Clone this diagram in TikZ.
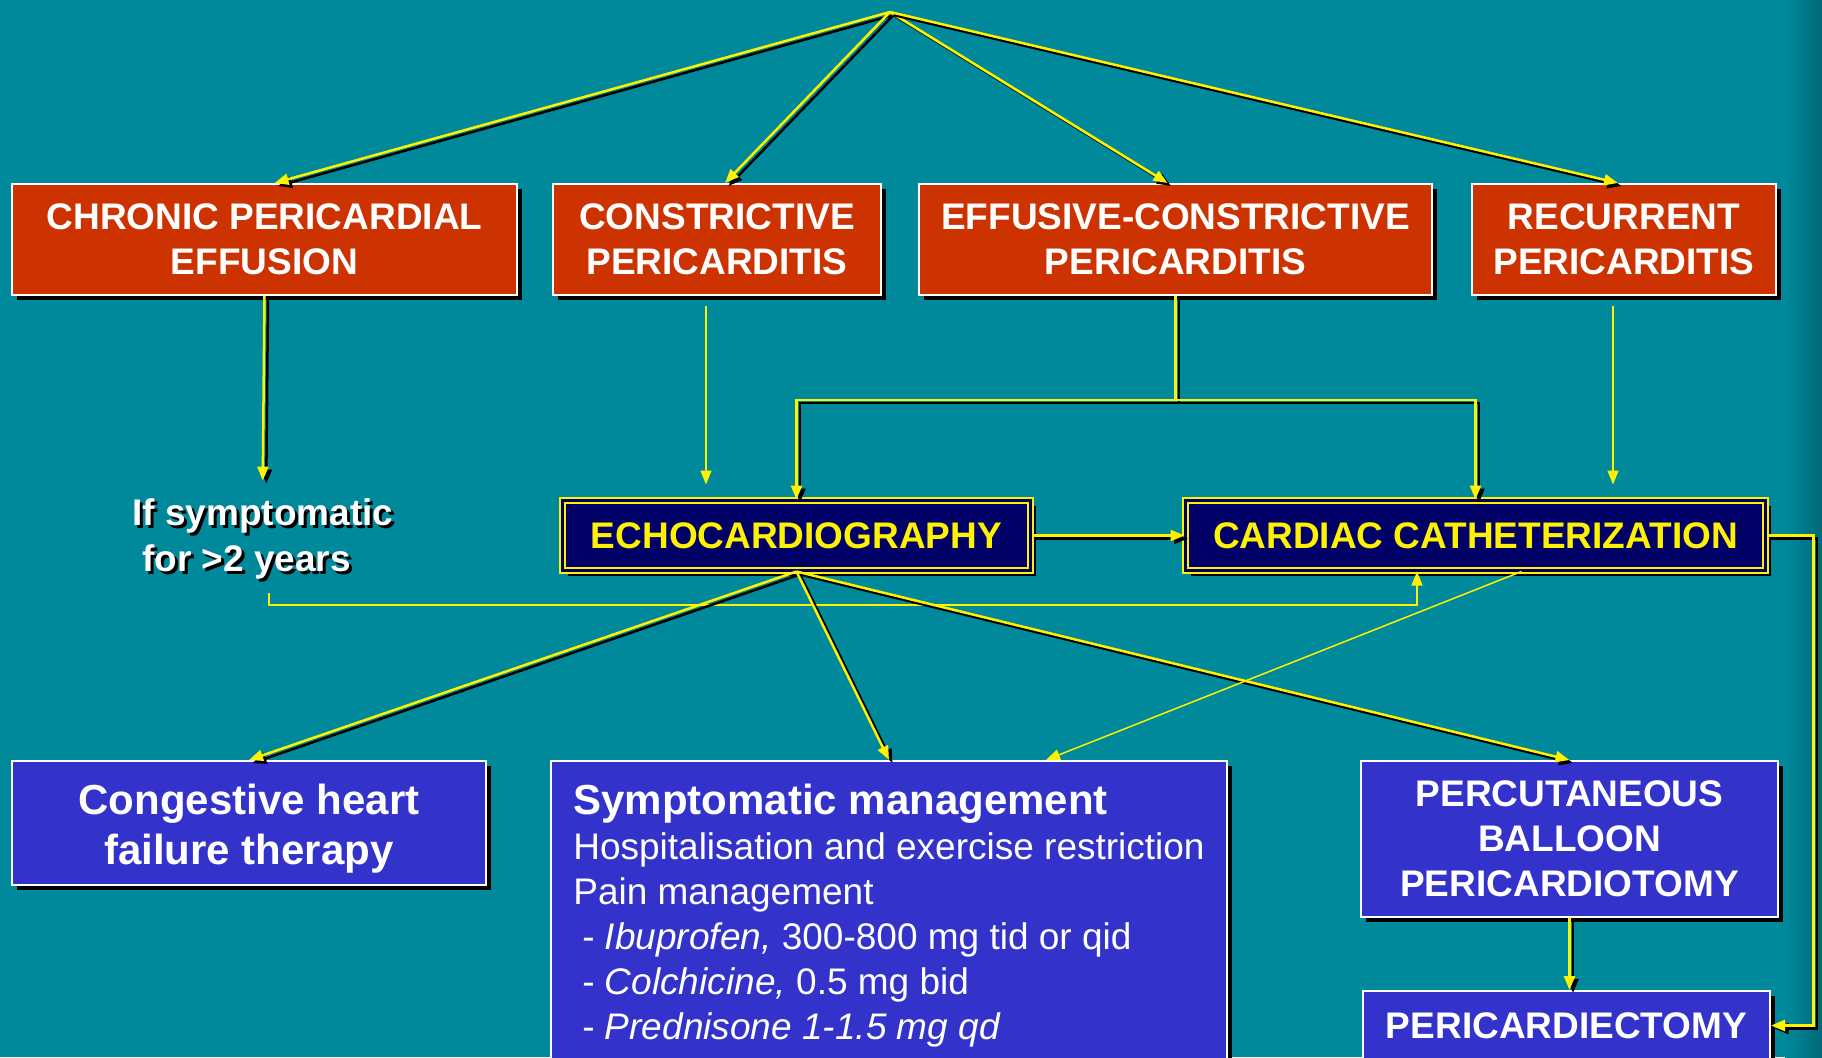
\documentclass[tikz,border=0pt]{standalone}
\usepackage{fontspec}
\setmainfont{Liberation Sans}
\usetikzlibrary{arrows.meta,shadows}
\definecolor{slidebg}{RGB}{0,137,155}
\definecolor{slidebgdark}{RGB}{0,105,120}
\definecolor{boxred}{RGB}{204,51,0}
\definecolor{boxblue}{RGB}{51,51,204}
\definecolor{boxnavy}{RGB}{0,0,102}
\newcommand\capsfont{\fontsize{37}{45}\selectfont\bfseries}
\newcommand\headfont{\fontsize{42}{50}\selectfont\bfseries}
\newcommand\listfont{\fontsize{37}{45}\selectfont}
\newcommand\feedline[1]{\draw[feedshadow] #1; \draw[feed] #1;}
\begin{document}
\begin{tikzpicture}[x=1pt, y=-1pt,
  boxshadow/.style={drop shadow={shadow xshift=5pt, shadow yshift=-5pt, fill=black, opacity=1}},
  redbox/.style={draw=white, line width=2pt, fill=boxred, text=white, align=center, font=\capsfont, boxshadow},
  navybox/.style={draw=yellow, line width=2pt, double=boxnavy, double distance=3pt, fill=boxnavy, text=yellow, font=\capsfont, boxshadow},
  bluebox/.style={draw=white, line width=2pt, fill=boxblue, text=white, boxshadow},
  feed/.style={draw=yellow, line width=2.5pt, -{Triangle[length=14pt,width=11pt]}},
  feedshadow/.style={feed, draw=black, transform canvas={xshift=3.5pt,yshift=-3pt}},
  thinfeed/.style={draw=yellow, line width=1.5pt, -{Triangle[length=14pt,width=11pt]}}]

\fill[slidebg] (0,0) rectangle (1822,1057);
\shade[left color=slidebg, right color=slidebgdark] (1785,0) rectangle (1822,1057);
\useasboundingbox (0,0) rectangle (1822,1057);

\coordinate (apex) at (890,12);

\node (chronic) [redbox, minimum width=505pt, minimum height=111pt] at (264.5,239.5) {CHRONIC PERICARDIAL\\EFFUSION};
\node (constrictive) [redbox, minimum width=328pt, minimum height=111pt] at (717,239.5) {CONSTRICTIVE\\PERICARDITIS};
\node (effusive) [redbox, minimum width=513pt, minimum height=111pt] at (1175.5,239.5) {EFFUSIVE-CONSTRICTIVE\\PERICARDITIS};
\node (recurrent) [redbox, minimum width=304pt, minimum height=111pt] at (1624,239.5) {RECURRENT\\PERICARDITIS};

\node (symtxt shadow) [text=black, font=\capsfont, align=left, anchor=west, inner sep=4pt] at (131,542) {If symptomatic\\[1pt]\hspace*{10pt}for >2 years};
\node (symtxt) [text=white, font=\capsfont, align=left, anchor=west, inner sep=4pt] at (128,539) {If symptomatic\\[1pt]\hspace*{10pt}for >2 years};

\node (echo) [navybox, minimum width=468pt, minimum height=70pt] at (796.5,535.5) {ECHOCARDIOGRAPHY};
\node (cath) [navybox, minimum width=580pt, minimum height=70pt] at (1475.5,535.5) {CARDIAC CATHETERIZATION};

\node (chf) [bluebox, font=\headfont, align=center, minimum width=474pt, minimum height=124pt] at (249,823) {\rule{0pt}{41pt}Congestive heart\\failure therapy};
\node (symp) [bluebox, font=\listfont, align=left, minimum width=676pt, minimum height=299pt] at (889,910.5) {{\headfont\rule{0pt}{41pt}Symptomatic management}\\Hospitalisation and exercise restriction\\Pain management\\\hspace*{9pt}- \textit{Ibuprofen,} 300-800 mg tid or qid\\\hspace*{9pt}- \textit{Colchicine,} 0.5 mg bid\\\hspace*{9pt}- \textit{Prednisone 1-1.5 mg qd}};
\node (percut) [bluebox, font=\capsfont, align=center, minimum width=417pt, minimum height=156pt] at (1569.5,839) {PERCUTANEOUS\\BALLOON\\PERICARDIOTOMY};
\node (pcy) [bluebox, font=\capsfont, minimum width=407pt, minimum height=69pt] at (1566.5,1025.5) {PERICARDIECTOMY};

\coordinate (split) at ([yshift=-104pt]effusive.south);
\coordinate (detour) at (1417,605);

\feedline{(apex) -- ([xshift=10pt]chronic.north)}
\feedline{(apex) -- ([xshift=8pt]constrictive.north)}
\feedline{(apex) -- ([xshift=-8pt]effusive.north)}
\feedline{(apex) -- ([xshift=-6pt]recurrent.north)}

\feedline{(chronic.south) -- ([yshift=14pt]symtxt.north)}
\draw[thinfeed, shorten <=10pt, shorten >=15pt] ([xshift=-11pt]constrictive.south) -- ([xshift=-11pt]constrictive.south |- echo.north);
\draw[thinfeed, shorten <=10pt, shorten >=15pt] ([xshift=-11pt]recurrent.south) -- ([xshift=-11pt]recurrent.south |- cath.north);

\feedline{(effusive.south) -- (split) -| (echo.north)}
\feedline{(split) -| (cath.north)}

\feedline{(echo.east) -- (cath.west)}
\feedline{(cath.east) -- ++(47,0) |- (pcy.east)}
\draw[thinfeed, shorten <=10pt] ([xshift=6pt]symtxt.south) |- (detour) -- (detour |- cath.south);

\feedline{(echo.south) -- (chf.north)}
\feedline{(echo.south) -- (symp.north)}
\feedline{(echo.south) -- (percut.north)}
\draw[thinfeed] ([xshift=46pt]cath.south) -- ([xshift=157pt]symp.north);
\feedline{(percut.south) -- (percut.south |- pcy.north)}
\end{tikzpicture}
\end{document}
